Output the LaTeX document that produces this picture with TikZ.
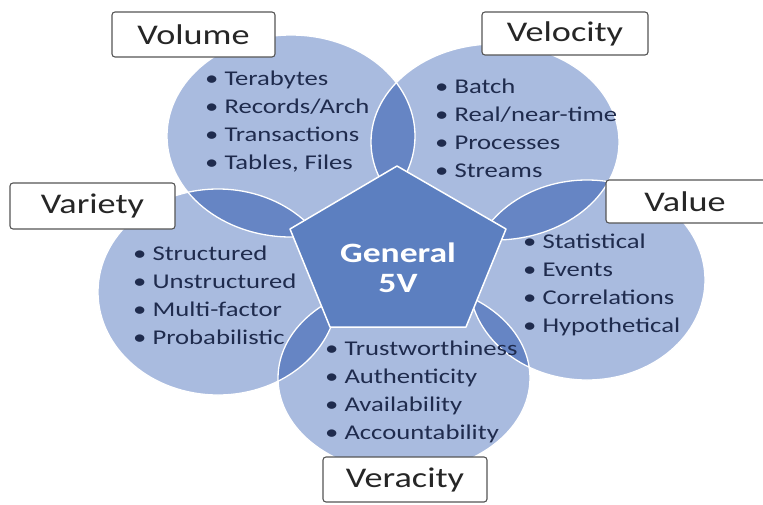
\documentclass[tikz,border=0pt]{standalone}
\usepackage{fontspec}
\setmainfont{Carlito}
\newfontfamily\stretchfont[FakeStretch=1.27]{Carlito}
\definecolor{circfill}{HTML}{A9BBDF}
\definecolor{lensfill}{HTML}{6685C4}
\definecolor{pentfill}{HTML}{5C7FC0}
\definecolor{itemtext}{HTML}{1F2B4D}
\definecolor{boxline}{HTML}{555555}
\tikzset{
  circ/.style={fill=circfill},
  circline/.style={draw=white, line width=1.3pt},
  lens/.style={fill=lensfill},
  items/.style={anchor=west, align=left, text=itemtext, inner sep=0pt,
    font={\stretchfont\fontsize{21}{28}\selectfont}},
  labelbox/.style={draw=boxline, line width=1.1pt, fill=white, rounded corners=3pt,
    inner sep=0pt, text=black!85, font={\stretchfont\fontsize{28.5}{30}\selectfont}},
  centertext/.style={align=center, text=white, inner sep=0pt,
    font={\stretchfont\bfseries\fontsize{28}{30}\selectfont}}
}
\begin{document}
\begin{tikzpicture}[x=1pt,y=-1pt]
\useasboundingbox (0,0) rectangle (763,504);
\clip (0,0) rectangle (763,504);
\fill[white] (0,0) rectangle (763,504);
% centres of the five ellipses
\coordinate (cVol) at (291,136);
\coordinate (cVel) at (495,142);
\coordinate (cVar) at (218,292);
\coordinate (cVal) at (587,280);
\coordinate (cVer) at (404,378);
% light ellipses
\fill[circ] (cVol) ellipse [x radius=124, y radius=101];
\fill[circ] (cVel) ellipse [x radius=124, y radius=98];
\fill[circ] (cVar) ellipse [x radius=120, y radius=103];
\fill[circ] (cVal) ellipse [x radius=118, y radius=100];
\fill[circ] (cVer) ellipse [x radius=126, y radius=95];
% darker overlaps
\begin{scope}
  \clip (cVol) ellipse [x radius=124, y radius=101];
  \fill[lens] (cVel) ellipse [x radius=124, y radius=98];
  \fill[lens] (cVar) ellipse [x radius=120, y radius=103];
\end{scope}
\begin{scope}
  \clip (cVal) ellipse [x radius=118, y radius=100];
  \fill[lens] (cVel) ellipse [x radius=124, y radius=98];
  \fill[lens] (cVer) ellipse [x radius=126, y radius=95];
\end{scope}
\begin{scope}
  \clip (cVar) ellipse [x radius=120, y radius=103];
  \fill[lens] (cVer) ellipse [x radius=126, y radius=95];
\end{scope}
% white outlines
\draw[circline] (cVol) ellipse [x radius=124, y radius=101];
\draw[circline] (cVel) ellipse [x radius=124, y radius=98];
\draw[circline] (cVar) ellipse [x radius=120, y radius=103];
\draw[circline] (cVal) ellipse [x radius=118, y radius=100];
\draw[circline] (cVer) ellipse [x radius=126, y radius=95];
% pentagon
\coordinate (p1) at (397,166);
\coordinate (p2) at (506,229);
\coordinate (p3) at (466,327);
\coordinate (p4) at (330,327);
\coordinate (p5) at (290,229);
\filldraw[fill=pentfill, draw=white, line width=1.5pt, line join=round]
  (p1) -- (p2) -- (p3) -- (p4) -- (p5) -- cycle;
\node[centertext] (gen) at (398,268) {General\\5V};
% item lists
\node[items] (volItems) at (205,122) {• Terabytes\\• Records/Arch\\• Transactions\\• Tables, Files};
\node[items] (velItems) at (435,128) {• Batch\\• Real/near-time\\• Processes\\• Streams};
\node[items] (varItems) at (133,295) {• Structured\\• Unstructured\\• Multi-factor\\• Probabilistic};
\node[items] (valItems) at (523,285) {• Statistical\\• Events\\• Correlations\\• Hypothetical};
\node[items] (verItems) at (325,392) {• Trustworthiness\\• Authenticity\\• Availability\\• Accountability};
% label boxes
\node[labelbox, minimum width=163pt, minimum height=45pt] (volume) at (193.5,34.5) {Volume};
\node[labelbox, minimum width=166pt, minimum height=43pt] (velocity) at (565,33.5) {Velocity};
\node[labelbox, minimum width=165pt, minimum height=46pt] (variety) at (92.5,206) {Variety};
\node[labelbox, minimum width=172pt, minimum height=43pt] (value) at (692,201.5) {Value\hspace*{14pt}};
\node[labelbox, minimum width=164pt, minimum height=45pt] (veracity) at (405,479.5) {Veracity};
\end{tikzpicture}
\end{document}
